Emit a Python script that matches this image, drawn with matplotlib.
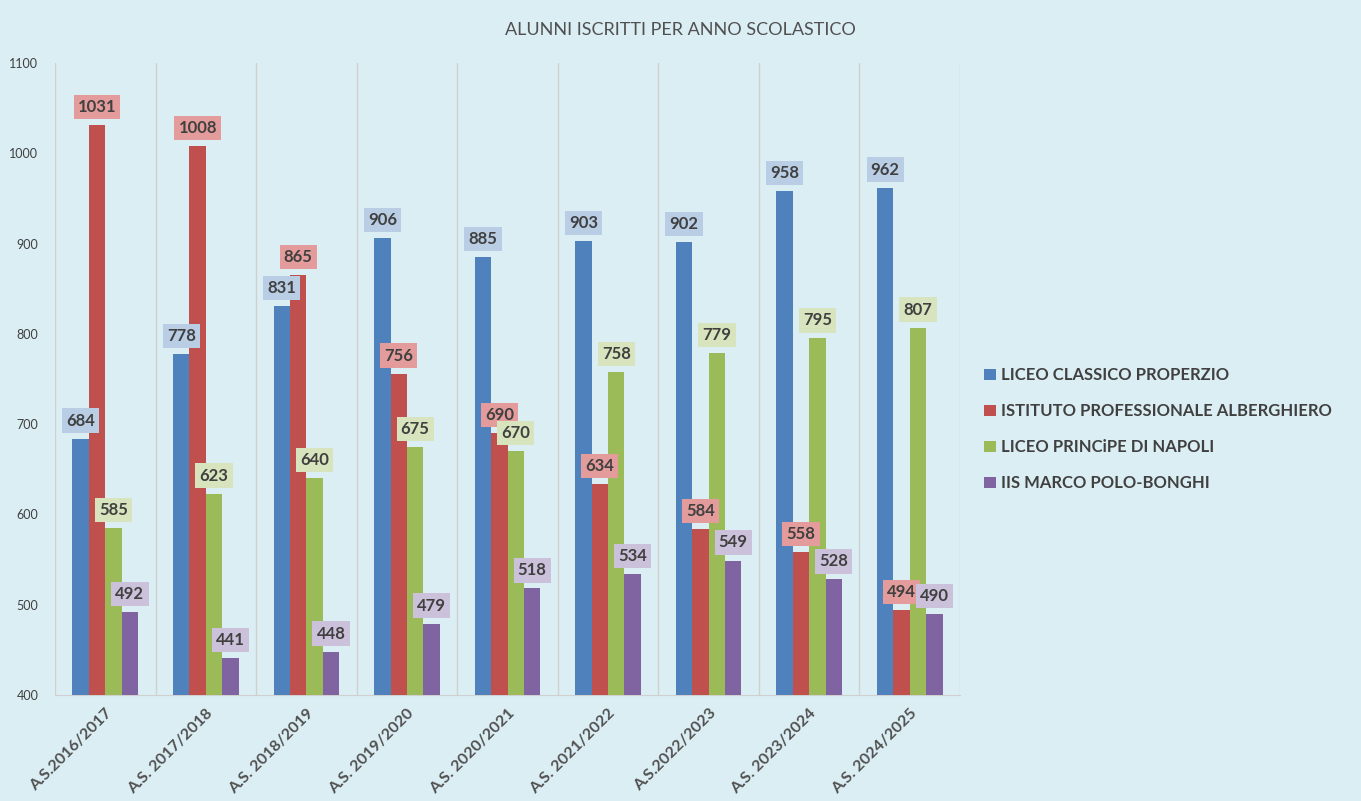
import numpy as np
import matplotlib.pyplot as plt

plt.rcParams['font.family'] = ['Lato', 'DejaVu Sans']

anni = ['A.S.2016/2017', 'A.S. 2017/2018', 'A.S. 2018/2019', 'A.S. 2019/2020',
        'A.S. 2020/2021', 'A.S. 2021/2022', 'A.S.2022/2023', 'A.S. 2023/2024',
        'A.S. 2024/2025']
scuole = ['LICEO CLASSICO PROPERZIO', 'ISTITUTO PROFESSIONALE ALBERGHIERO',
          'LICEO PRINCiPE DI NAPOLI', 'IIS MARCO POLO-BONGHI']
properzio = [684, 778, 831, 906, 885, 903, 902, 958, 962]
alberghiero = [1031, 1008, 865, 756, 690, 634, 584, 558, 494]
principe = [585, 623, 640, 675, 670, 758, 779, 795, 807]
polo_bonghi = [492, 441, 448, 479, 518, 534, 549, 528, 490]

serie = [properzio, alberghiero, principe, polo_bonghi]
colori = ['#4F81BD', '#C0504D', '#9BBB59', '#8064A2']
colori_etichette = ['#B9CDE5', '#E39C9B', '#D7E4BD', '#CCC1DA']

bg = '#DBEEF4'
fig = plt.figure(figsize=(13.61, 8.01), dpi=100, facecolor=bg)
ax = fig.add_axes([0.0404, 0.1323, 0.665, 0.7890], facecolor=bg)

x = np.arange(len(anni))
w = 0.163
for i, (vals, col, lcol) in enumerate(zip(serie, colori, colori_etichette)):
    pos = x + (i - 1.5) * w
    ax.bar(pos, np.array(vals) - 400, bottom=400, width=w, color=col,
           label=scuole[i], zorder=3)
    for p, v in zip(pos, vals):
        ax.annotate(str(v), (p, v), xytext=(0, 13), textcoords='offset points',
                    ha='center', va='center', fontsize=12, fontweight='bold',
                    color='#404040', zorder=5,
                    bbox=dict(boxstyle='square,pad=0.25', fc=lcol, ec='none'))

ax.set_xlim(-0.5, len(anni) - 0.5)
ax.set_ylim(400, 1100)
ax.set_yticks(range(400, 1101, 100))
ax.tick_params(axis='y', length=0, labelsize=9, colors='#404040', pad=12)
ax.set_xticks(x)
ax.set_xticklabels(anni, rotation=45, ha='right', rotation_mode='anchor',
                   fontsize=11.5, fontweight='bold', color='#505050')
ax.tick_params(axis='x', length=0, pad=8)

for b in np.arange(-0.5, len(anni), 1):
    ax.axvline(b, color='#D0D0D0', lw=1, zorder=1)
for s in ['top', 'right', 'left']:
    ax.spines[s].set_visible(False)
ax.spines['bottom'].set_color('#D0D0D0')

fig.text(0.5, 0.962, 'ALUNNI ISCRITTI PER ANNO SCOLASTICO', ha='center',
         va='center', fontsize=13, color='#505050')

leg = fig.legend(loc='center left', bbox_to_anchor=(0.712, 0.464), frameon=False,
                 handlelength=0.7, handleheight=0.7, handletextpad=0.3,
                 labelspacing=1.2, prop={'size': 12, 'weight': 'bold'})
for t in leg.get_texts():
    t.set_color('#404040')

fig.savefig('out.png', dpi=100, facecolor=bg)
